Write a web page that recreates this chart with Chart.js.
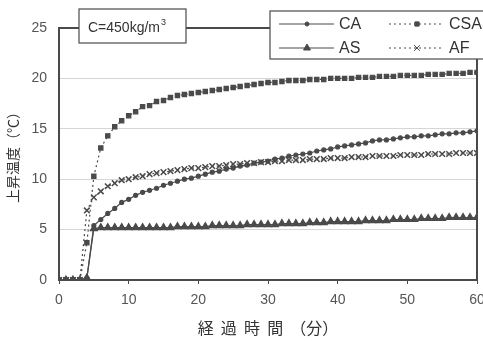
<!DOCTYPE html>
<html>
<head>
<meta charset="utf-8">
<script src="https://cdn.jsdelivr.net/npm/chart.js@4/dist/chart.umd.min.js"></script>
<style>
  html, body { margin: 0; padding: 0; background: #fff; }
  #wrap { width: 483px; height: 342px; }
</style>
</head>
<body>
<div id="wrap"><canvas id="chart-temp"></canvas></div>
<script>
// elapsed minutes 0..60
var minutes = [];
for (var m = 0; m <= 60; m++) minutes.push(m);

var seriesNames = ["CA", "CSA", "AS", "AF"];

var caValues = [0,0,0,0,0.2,5.4,6.0,6.6,7.1,7.7,8.0,8.4,8.7,8.9,9.1,9.4,9.6,9.8,10.0,10.1,
    10.3,10.5,10.7,10.8,11.0,11.1,11.3,11.4,11.6,11.7,11.8,12.0,12.1,12.3,12.4,12.5,12.6,12.8,12.9,13.0,
    13.2,13.3,13.4,13.5,13.6,13.8,13.9,13.9,14.0,14.1,14.2,14.2,14.3,14.3,14.4,14.5,14.5,14.6,14.6,14.7,14.8];
var csaValues = [0,0,0,0,3.7,10.3,13.1,14.3,15.2,15.8,16.3,16.7,17.2,17.3,17.7,17.8,18.1,18.3,18.4,18.5,
    18.6,18.7,18.8,18.9,19.0,19.1,19.2,19.3,19.4,19.5,19.6,19.6,19.7,19.8,19.8,19.8,19.9,19.9,19.9,20.0,
    20.0,20.0,20.0,20.1,20.1,20.1,20.2,20.2,20.2,20.3,20.3,20.3,20.3,20.4,20.4,20.4,20.5,20.5,20.5,20.6,20.6];
var asValues = [0,0,0,0,0.2,5.1,5.2,5.2,5.2,5.2,5.2,5.2,5.2,5.2,5.2,5.2,5.2,5.3,5.3,5.3,
    5.3,5.3,5.4,5.4,5.4,5.4,5.4,5.5,5.5,5.5,5.5,5.5,5.6,5.6,5.6,5.6,5.7,5.7,5.7,5.8,
    5.8,5.8,5.8,5.8,5.9,5.9,5.9,5.9,6.0,6.0,6.0,6.0,6.1,6.1,6.1,6.1,6.2,6.2,6.2,6.2,6.2];
var afValues = [0,0,0,0,6.9,8.2,8.8,9.3,9.6,9.9,10.0,10.2,10.3,10.5,10.6,10.7,10.8,10.9,11.0,11.1,
    11.1,11.2,11.3,11.3,11.4,11.5,11.5,11.6,11.6,11.7,11.7,11.8,11.8,11.9,11.9,11.9,12.0,12.0,12.0,12.1,
    12.1,12.1,12.2,12.2,12.2,12.3,12.3,12.3,12.3,12.4,12.4,12.4,12.4,12.5,12.5,12.5,12.5,12.6,12.6,12.6,12.6];

var xTicks = [0, 10, 20, 30, 40, 50, 60];
var yTicks = [0, 5, 10, 15, 20, 25];

var ink = "#4a4a4a";
var labelGrey = "#555";

function toPoints(vals) {
    return vals.map(function (v, i) { return { x: minutes[i], y: v }; });
}

// legend box + "C=450kg/m3" note, drawn on top
var notesPlugin = {
    id: "notes",
    afterDraw: function (chart) {
        var c = chart.ctx;
        c.save();
        // concrete note box
        c.fillStyle = "#fff";
        c.strokeStyle = ink;
        c.lineWidth = 1.2;
        c.fillRect(79, 9, 107, 34);
        c.strokeRect(79, 9, 107, 34);
        c.fillStyle = "#333";
        c.font = "14px 'Liberation Sans', Arial, sans-serif";
        c.textBaseline = "alphabetic";
        c.textAlign = "left";
        var note = "C=450kg/m";
        c.fillText(note, 88, 32);
        var w = c.measureText(note).width;
        c.font = "9px 'Liberation Sans', Arial, sans-serif";
        c.fillText("3", 88 + w + 1, 25);

        // legend box
        c.fillStyle = "#fff";
        c.fillRect(270, 11, 220, 48);
        c.strokeRect(270, 11, 220, 48);
        var ds = chart.data.datasets;
        var rows = [[0, 1], [2, 3]];
        var colX = [279, 389];
        var rowY = [24, 48];
        c.font = "16px 'Liberation Sans', Arial, sans-serif";
        c.textBaseline = "middle";
        rows.forEach(function (r, ri) {
            r.forEach(function (di, ci) {
                var d = ds[di];
                var x0 = colX[ci], y0 = rowY[ri];
                c.strokeStyle = ink;
                c.lineWidth = 1;
                c.setLineDash(d.borderDash || []);
                c.beginPath();
                c.moveTo(x0, y0);
                c.lineTo(x0 + 55, y0);
                c.stroke();
                c.setLineDash([]);
                c.fillStyle = ink;
                c.strokeStyle = ink;
                Chart.helpers.drawPoint(c, {
                    pointStyle: d.pointStyle,
                    radius: d.pointRadius,
                    rotation: 0,
                    borderWidth: 1.5
                }, x0 + 28, y0);
                c.fillStyle = "#333";
                c.fillText(d.label, x0 + 60, y0 + 1);
            });
        });
        c.restore();
    }
};

var ctx = document.getElementById("chart-temp").getContext("2d");

new Chart(ctx, {
    type: "line",
    data: {
        datasets: [
            {
                label: seriesNames[0],
                data: toPoints(caValues),
                borderColor: ink,
                backgroundColor: ink,
                borderWidth: 1.2,
                pointStyle: "circle",
                pointRadius: 2,
                order: 2
            },
            {
                label: seriesNames[1],
                data: toPoints(csaValues),
                borderColor: ink,
                backgroundColor: ink,
                borderWidth: 1.2,
                borderDash: [2, 3],
                pointStyle: "rect",
                pointRadius: 3,
                order: 1
            },
            {
                label: seriesNames[2],
                data: toPoints(asValues),
                borderColor: ink,
                backgroundColor: ink,
                borderWidth: 1.2,
                pointStyle: "triangle",
                pointRadius: 4,
                order: 3
            },
            {
                label: seriesNames[3],
                data: toPoints(afValues),
                borderColor: ink,
                backgroundColor: ink,
                borderWidth: 1.2,
                pointBorderWidth: 1.5,
                borderDash: [2, 3],
                pointStyle: "crossRot",
                pointRadius: 4,
                order: 4
            }
        ]
    },
    options: {
        responsive: true,
        maintainAspectRatio: false,
        animation: false,
        layout: { padding: { top: 28, right: 6, left: 0, bottom: 0 } },
        plugins: {
            legend: { display: false },
            tooltip: { enabled: false }
        },
        scales: {
            x: {
                type: "linear",
                min: 0,
                max: 60,
                afterBuildTicks: function (axis) {
                    axis.ticks = xTicks.map(function (v) { return { value: v }; });
                },
                afterFit: function (axis) {
                    axis.height = 62;
                    axis.paddingLeft = 0;
                    axis.paddingRight = 0;
                },
                border: { display: true, color: ink, width: 2 },
                grid: { display: true, drawOnChartArea: false, drawTicks: true, tickLength: 4, color: ink },
                ticks: {
                    padding: 8,
                    maxRotation: 0,
                    color: labelGrey,
                    font: { size: 14, family: "'Liberation Sans', Arial, sans-serif" }
                },
                title: {
                    display: true,
                    text: "経  過  時  間  （分）",
                    color: "#333",
                    padding: { top: 2 },
                    font: { size: 16, family: "'Noto Sans CJK JP', sans-serif" }
                }
            },
            y: {
                min: 0,
                max: 25,
                afterBuildTicks: function (axis) {
                    axis.ticks = yTicks.map(function (v) { return { value: v }; });
                },
                afterFit: function (axis) {
                    axis.width = 59;
                    axis.paddingTop = 0;
                    axis.paddingBottom = 0;
                },
                border: { display: true, color: ink, width: 2 },
                grid: {
                    display: true,
                    drawTicks: false,
                    color: function (c) {
                        return (c.tick && c.tick.value > 0 && c.tick.value < 25) ? "#d6d6d6" : "rgba(0,0,0,0)";
                    },
                    lineWidth: 1
                },
                ticks: {
                    padding: 12,
                    color: labelGrey,
                    font: { size: 14, family: "'Liberation Sans', Arial, sans-serif" }
                },
                title: {
                    display: true,
                    text: "上昇温度（℃）",
                    color: "#333",
                    padding: { bottom: 0 },
                    font: { size: 14, family: "'Noto Sans CJK JP', sans-serif" }
                }
            }
        }
    },
    plugins: [{
        id: "frame",
        afterDatasetsDraw: function (chart) {
            var a = chart.chartArea, c = chart.ctx;
            c.save();
            c.strokeStyle = ink;
            c.lineWidth = 2;
            c.strokeRect(a.left, a.top, a.right - a.left, a.bottom - a.top);
            c.restore();
        }
    }, notesPlugin]
});
</script>
</body>
</html>
